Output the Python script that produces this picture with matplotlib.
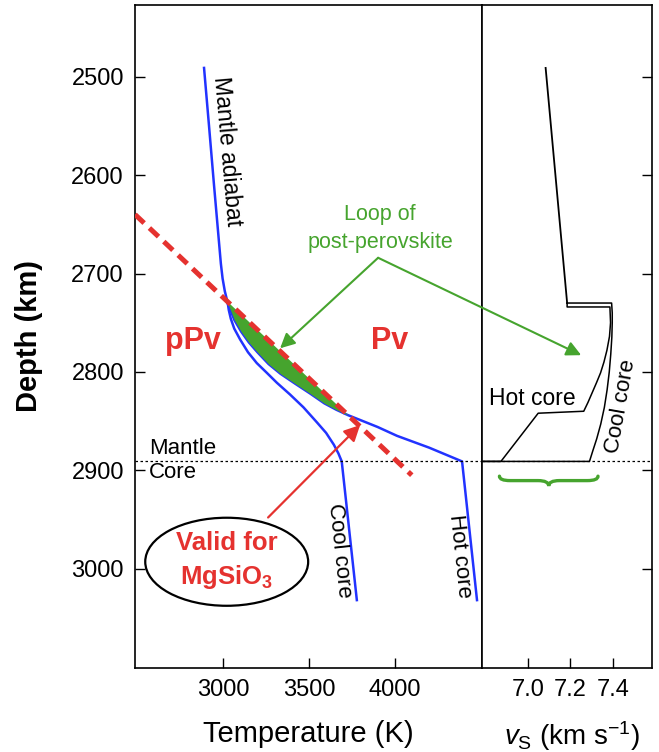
import numpy as np
import matplotlib.pyplot as plt
from matplotlib.patches import Ellipse, PathPatch
from matplotlib.path import Path

plt.rcParams['font.family'] = ['Liberation Sans', 'DejaVu Sans']
plt.rcParams['mathtext.fontset'] = 'custom'
plt.rcParams['mathtext.rm'] = 'Liberation Sans'
plt.rcParams['mathtext.it'] = 'Liberation Sans:italic'
plt.rcParams['mathtext.bf'] = 'Liberation Sans:bold'

# geotherms: temperature (K) vs depth (km)
adiabat_T = [2889, 2918, 2947, 2972, 2987, 2997, 3010, 3027]
adiabat_d = [2491, 2550, 2610, 2660, 2690, 2705, 2718, 2730]

hot_T = [3027, 3065, 3105, 3150, 3200, 3265, 3335, 3420, 3507, 3590, 3660, 3728,
         3800, 3900, 4013, 4200, 4392, 4479]
hot_d = [2730, 2747, 2759, 2770, 2780, 2792, 2802, 2812, 2822, 2832, 2838.5, 2844,
         2849, 2856, 2865, 2877, 2891, 3032]

cool_T = [3027, 3033, 3045, 3065, 3099, 3145, 3196, 3255, 3313, 3390, 3468, 3545,
          3600, 3645, 3672, 3691, 3779]
cool_d = [2730, 2737, 2746, 2756, 2767, 2780, 2791, 2801, 2811, 2823, 2836, 2851,
          2862, 2874, 2883, 2891, 3032]

# Pv -> pPv phase boundary (Clapeyron slope)
clap_T = [2487, 4099]
clap_d = [2640, 2905]

# shear velocity (km/s) vs depth (km)
vs_top = [7.084, 7.185]
d_top = [2491, 2730]
vs_cool = [7.185, 7.394, 7.397, 7.397, 7.395, 7.39, 7.383, 7.373, 7.36, 7.343,
           7.324, 7.306, 7.29, 6.785]
d_cool = [2730, 2730, 2740, 2750, 2765, 2782, 2800, 2818, 2836, 2853,
          2868, 2880, 2891, 2891]
vs_hot = [7.185, 7.185, 7.386, 7.389, 7.384, 7.372, 7.358, 7.342, 7.323, 7.302,
          7.283, 7.263, 7.049, 6.874, 6.785]
d_hot = [2730, 2734, 2734, 2750, 2764, 2778, 2790, 2801, 2811, 2821.5,
         2831, 2840, 2842, 2891, 2891]

cmb = 2891
depth_ticks = [2500, 2600, 2700, 2800, 2900, 3000]
T_ticks = [3000, 3500, 4000]
vs_ticks = [7.0, 7.2, 7.4]

blue = '#2233ff'
red = '#e5322f'
green = '#46a42e'

fig = plt.figure(figsize=(6.59, 7.52), dpi=100)
ax1 = fig.add_axes([0.2049, 0.1117, 0.5265, 0.8817])
ax2 = fig.add_axes([0.7314, 0.1117, 0.2587, 0.8817])

# ---- left panel: temperature ----
ax1.plot(adiabat_T, adiabat_d, color=blue, lw=1.8)
ax1.plot(hot_T, hot_d, color=blue, lw=1.8)
ax1.plot(cool_T, cool_d, color=blue, lw=1.8)

# loop of post-perovskite: between hot geotherm and the phase boundary
n_loop = 12
loop_T = np.array(hot_T[:n_loop])
loop_top = np.interp(loop_T, clap_T, clap_d)
ax1.fill_between(loop_T, np.array(hot_d[:n_loop]), loop_top, color=green, lw=0, zorder=2)

ax1.plot(clap_T, clap_d, color=red, lw=3.6, dashes=(2.5, 1.45), zorder=3)

ax1.axhline(cmb, color='black', lw=0.9, ls=(0, (2, 2)))
ax2.axhline(cmb, color='black', lw=0.9, ls=(0, (2, 2)))

ax1.text(2569, cmb - 2, 'Mantle', fontsize=16, ha='left', va='bottom')
ax1.text(2569, cmb + 1, 'Core', fontsize=16, ha='left', va='top')

ax1.text(3021, 2576, 'Mantle adiabat', fontsize=16.5, rotation=-85,
         ha='center', va='center', rotation_mode='anchor')
ax1.text(3676, 2982, 'Cool core', fontsize=16, rotation=-84,
         ha='center', va='center', rotation_mode='anchor')
ax1.text(4380, 2987, 'Hot core', fontsize=16, rotation=-84,
         ha='center', va='center', rotation_mode='anchor')

ax1.text(2826, 2769, 'pPv', fontsize=22, fontweight='bold', color=red,
         ha='center', va='center')
ax1.text(3968, 2769, 'Pv', fontsize=22, fontweight='bold', color=red,
         ha='center', va='center')

ax1.add_patch(Ellipse((3021, 2993), 949, 89.5, fill=False, ec='black', lw=1.6, zorder=4))
ax1.text(3021, 2974, 'Valid for', fontsize=18.5, fontweight='bold', color=red,
         ha='center', va='center')
ax1.text(3021, 3008, r'MgSiO$_\mathbf{3}$', fontsize=18.5, fontweight='bold', color=red,
         ha='center', va='center')
ax1.annotate('', xy=(3798, 2854), xytext=(3262, 2948),
             arrowprops=dict(arrowstyle='-|>', color=red, lw=1.6, mutation_scale=24,
                             shrinkA=0, shrinkB=0))

ax1.text(3914, 2654, 'Loop of\npost-perovskite', fontsize=15.5, color=green,
         ha='center', va='center', linespacing=1.45)
ax1.annotate('', xy=(3332, 2776), xytext=(3903, 2684),
             arrowprops=dict(arrowstyle='-|>', color=green, lw=1.5, mutation_scale=22,
                             shrinkA=0, shrinkB=0))
arr = ax2.annotate('', xy=(7.251, 2783), xycoords='data',
                   xytext=(3903, 2684), textcoords=ax1.transData,
                   annotation_clip=False,
                   arrowprops=dict(arrowstyle='-|>', color=green, lw=1.5, mutation_scale=22,
                                   shrinkA=0, shrinkB=0))
arr.arrow_patch.set_clip_on(False)

ax1.set_xlim(2487, 4508)
ax1.set_ylim(3101, 2427)
ax1.set_xticks(T_ticks)
ax1.set_yticks(depth_ticks)
ax1.tick_params(direction='in', length=7, width=1, labelsize=17, pad=8,
                right=False, top=False)
ax1.set_xlabel('Temperature (K)', fontsize=21)
ax1.set_ylabel('Depth (km)', fontsize=21, fontweight='bold')
ax1.xaxis.set_label_coords(0.5, -0.079)
ax1.yaxis.set_label_coords(-0.265, 0.5)

# ---- right panel: shear velocity ----
ax2.plot(vs_top, d_top, color='black', lw=1.3)
ax2.plot(vs_cool, d_cool, color='black', lw=1.1)
ax2.plot(vs_hot, d_hot, color='black', lw=1.1)

ax2.text(7.02, 2827, 'Hot core', fontsize=16.5, ha='center', va='center')
ax2.text(7.437, 2835, 'Cool core', fontsize=16, rotation=80,
         ha='center', va='center', rotation_mode='anchor')

# brace under the velocity jump
bx0, bx1, btop, bmid, btip, q = 6.867, 7.33, 2906, 2910.5, 2916, 0.05
bxm = (bx0 + bx1) / 2
verts = [(bx0, btop), (bx0, bmid), (bx0 + q, bmid),
         (bxm - q, bmid), (bxm, bmid), (bxm, btip),
         (bxm, bmid), (bxm + q, bmid),
         (bx1 - q, bmid), (bx1, bmid), (bx1, btop)]
codes = [Path.MOVETO, Path.CURVE3, Path.CURVE3,
         Path.LINETO, Path.CURVE3, Path.CURVE3,
         Path.CURVE3, Path.CURVE3,
         Path.LINETO, Path.CURVE3, Path.CURVE3]
ax2.add_patch(PathPatch(Path(verts, codes), fill=False, ec=green, lw=2.4,
                        capstyle='round', clip_on=False))

ax2.set_xlim(6.785, 7.586)
ax2.set_ylim(3101, 2427)
ax2.set_xticks(vs_ticks)
ax2.set_xticklabels(['7.0', '7.2', '7.4'])
ax2.set_yticks(depth_ticks)
ax2.tick_params(direction='in', length=7, width=1, labelsize=17, pad=8,
                left=False, labelleft=False, right=True, top=False)
ax2.set_xlabel(r'$v_\mathrm{S}$ (km s$^{-1}$)', fontsize=20)
ax2.xaxis.set_label_coords(0.53, -0.077)

for ax in (ax1, ax2):
    for s in ax.spines.values():
        s.set_linewidth(1.2)

fig.savefig('out.png', dpi=100)
